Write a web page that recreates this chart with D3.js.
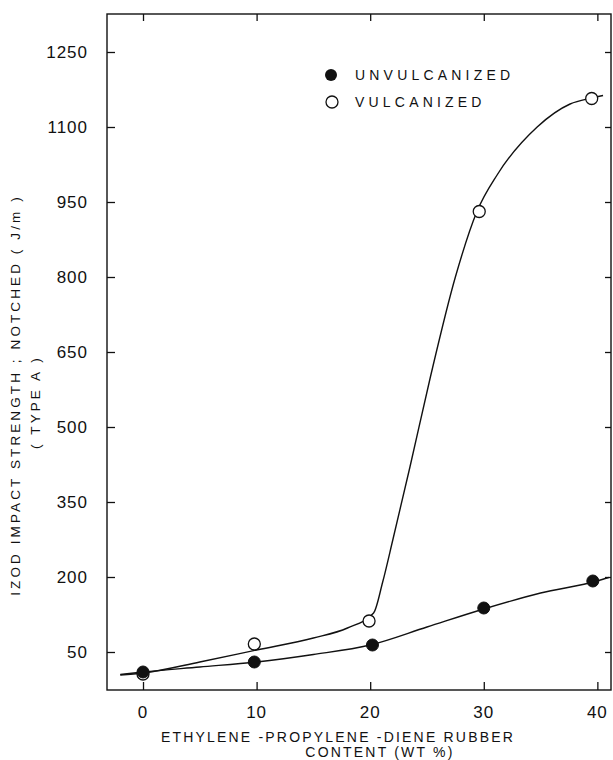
<!DOCTYPE html>
<html><head><meta charset="utf-8">
<script src="https://cdn.jsdelivr.net/npm/d3@7"></script>
<style>
html,body{margin:0;padding:0;background:#fff;}
svg{display:block;}
text{font-family:"Liberation Sans",Arial,sans-serif;fill:#111;}
</style></head>
<body>
<script>
// ---- data ----
const xTicks = [0, 10, 20, 30, 40];
const yTicks = [50, 200, 350, 500, 650, 800, 950, 1100, 1250];

const unvulcX = [0, 9.8, 20.2, 30, 39.6];
const unvulcY = [10, 30, 64, 138, 192];
const vulcX = [0, 9.8, 19.9, 29.6, 39.5];
const vulcY = [6, 66, 112, 931, 1157];

// fitted curves drawn in the figure
const unvulcCurveX = [-2, 0, 5, 10, 15, 20, 25, 30, 35, 40, 41];
const unvulcCurveY = [5, 10, 20, 30, 45, 64, 100, 136, 168, 192, 199];
const vulcCurveX = [-2, 0, 5, 10, 15, 18, 20.3, 21.1, 22.0, 23.5, 25.3, 27.5, 29.4, 31.2, 34.7, 37.6, 39.5, 40.5];
const vulcCurveY = [4, 8, 30, 54, 78, 98, 128, 190, 275, 420, 600, 800, 931, 1005, 1100, 1146, 1158, 1163];

const seriesNames = ["UNVULCANIZED", "VULCANIZED"];

// ---- drawing ----
const W = 613, H = 760;
const svg = d3.select("body").append("svg").attr("width", W).attr("height", H);

const x = d3.scaleLinear().domain([-3.17, 41.2]).range([107, 611]);
const y = d3.scaleLinear().domain([-26, 1326]).range([690, 14]);

const ink = "#111";

// frame
svg.append("rect").attr("x", 107).attr("y", 14).attr("width", 611 - 107).attr("height", 690 - 14)
  .attr("fill", "none").attr("stroke", ink).attr("stroke-width", 1.4);

// axes (ticks inward)
const axL = svg.append("g").attr("transform", "translate(107,0)")
  .call(d3.axisRight(y).tickValues(yTicks).tickSize(8).tickFormat(""));
const axR = svg.append("g").attr("transform", "translate(611,0)")
  .call(d3.axisLeft(y).tickValues(yTicks).tickSize(6).tickFormat(""));
const axB = svg.append("g").attr("transform", "translate(0,690)")
  .call(d3.axisTop(x).tickValues(xTicks).tickSize(8).tickFormat(""));
const axT = svg.append("g").attr("transform", "translate(0,14)")
  .call(d3.axisBottom(x).tickValues(xTicks).tickSize(7).tickFormat(""));
[axL, axR, axB, axT].forEach(g => {
  g.select(".domain").remove();
  g.selectAll("line").attr("stroke", ink).attr("stroke-width", 1.3);
});

// tick labels
svg.append("g").selectAll("text").data(yTicks).join("text")
  .attr("x", 88).attr("y", d => y(d)).attr("dy", "0.36em")
  .attr("text-anchor", "end").attr("font-size", 17).attr("letter-spacing", 1)
  .text(d => d);
svg.append("g").selectAll("text").data(xTicks).join("text")
  .attr("x", d => x(d)).attr("y", 718)
  .attr("text-anchor", "middle").attr("font-size", 17).attr("letter-spacing", 1)
  .text(d => d);

// axis titles
svg.append("text").attr("x", 338).attr("y", 742).attr("text-anchor", "middle")
  .attr("font-size", 14).attr("letter-spacing", 2.2)
  .text("ETHYLENE -PROPYLENE -DIENE RUBBER");
svg.append("text").attr("x", 380).attr("y", 757).attr("text-anchor", "middle")
  .attr("font-size", 14).attr("letter-spacing", 2.2)
  .text("CONTENT (WT %)");
svg.append("text").attr("transform", "translate(20,395) rotate(-90)").attr("text-anchor", "middle")
  .attr("font-size", 13.5).attr("letter-spacing", 3.1)
  .text("IZOD IMPACT STRENGTH ; NOTCHED ( J/m )");
svg.append("text").attr("transform", "translate(40,402) rotate(-90)").attr("text-anchor", "middle")
  .attr("font-size", 13.5).attr("letter-spacing", 3.1)
  .text("( TYPE A )");

// curves
const line = d3.line().x(d => x(d[0])).y(d => y(d[1])).curve(d3.curveMonotoneX);
svg.append("path").datum(d3.zip(unvulcCurveX, unvulcCurveY)).attr("d", line)
  .attr("fill", "none").attr("stroke", ink).attr("stroke-width", 1.4);
svg.append("path").datum(d3.zip(vulcCurveX, vulcCurveY)).attr("d", line)
  .attr("fill", "none").attr("stroke", ink).attr("stroke-width", 1.4);

// points
svg.append("g").selectAll("circle").data(d3.zip(vulcX, vulcY)).join("circle")
  .attr("cx", d => x(d[0])).attr("cy", d => y(d[1])).attr("r", 6)
  .attr("fill", "#fff").attr("stroke", ink).attr("stroke-width", 1.3);
svg.append("g").selectAll("circle").data(d3.zip(unvulcX, unvulcY)).join("circle")
  .attr("cx", d => x(d[0])).attr("cy", d => y(d[1])).attr("r", 6)
  .attr("fill", ink).attr("stroke", ink).attr("stroke-width", 1);

// legend
const leg = svg.append("g");
leg.append("circle").attr("cx", 331).attr("cy", 75).attr("r", 6).attr("fill", ink);
leg.append("circle").attr("cx", 332).attr("cy", 102).attr("r", 6).attr("fill", "#fff")
  .attr("stroke", ink).attr("stroke-width", 1.3);
leg.append("text").attr("x", 355).attr("y", 80).attr("font-size", 14).attr("letter-spacing", 4.2).text(seriesNames[0]);
leg.append("text").attr("x", 355).attr("y", 107).attr("font-size", 14).attr("letter-spacing", 4.2).text(seriesNames[1]);
</script>
</body></html>
